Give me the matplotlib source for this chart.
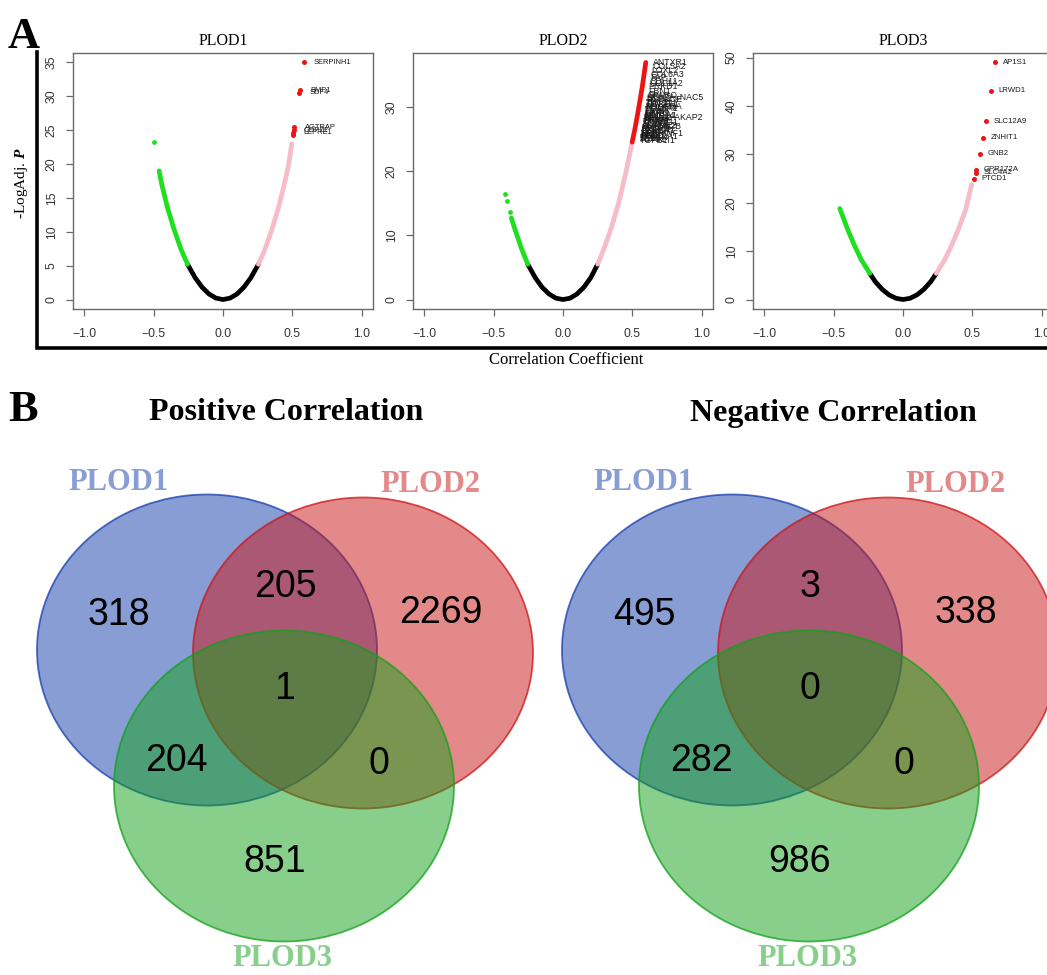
import matplotlib
matplotlib.use("Agg")
import matplotlib.pyplot as plt
from matplotlib.patches import Ellipse

# ---------------- data: volcano panels (r, -log adj P) ----------------
p1_black_r = [-0.255, -0.2, -0.15, -0.1, -0.05, 0.0, 0.05, 0.1, 0.15, 0.2, 0.255]
p1_black_y = [5.2, 3.2, 1.8, 0.8, 0.2, 0.0, 0.2, 0.8, 1.8, 3.2, 5.2]
p1_green_r = [-0.255, -0.3, -0.35, -0.4, -0.44, -0.46]
p1_green_y = [5.2, 7.3, 10.2, 13.6, 16.9, 19.0]
p1_green_pts_r = [-0.50]
p1_green_pts_y = [23.3]
p1_pink_r = [0.255, 0.3, 0.35, 0.4, 0.44, 0.47, 0.495]
p1_pink_y = [5.2, 7.3, 10.2, 13.6, 16.9, 19.6, 23.0]
p1_red_r = [0.58, 0.553, 0.55, 0.512, 0.509, 0.505, 0.502]
p1_red_y = [35.0, 30.9, 30.5, 25.4, 25.0, 24.6, 24.3]
p1_genes = ["SERPINH1", "BMP1", "SDF4", "AGTRAP", "COPZ2", "LEPRE1", ""]

p2_black_r = [-0.254, -0.2, -0.15, -0.1, -0.05, 0.0, 0.05, 0.1, 0.15, 0.2, 0.25]
p2_black_y = [5.5, 3.4, 1.9, 0.85, 0.2, 0.0, 0.2, 0.85, 1.9, 3.4, 5.5]
p2_green_r = [-0.254, -0.3, -0.35, -0.372]
p2_green_y = [5.5, 8.0, 11.2, 12.7]
p2_green_pts_r = [-0.384, -0.40, -0.415]
p2_green_pts_y = [13.7, 15.3, 16.4]
p2_pink_r = [0.25, 0.3, 0.35, 0.4, 0.45, 0.498]
p2_pink_y = [5.5, 8.2, 11.3, 15.0, 19.5, 24.5]
p2_red_r = [0.498, 0.52, 0.545, 0.57, 0.596]
p2_red_y = [24.5, 26.8, 29.8, 33.0, 36.9]
p2_gene_r = [0.596, 0.591, 0.586, 0.582, 0.578, 0.574, 0.571, 0.567, 0.561, 0.556,
             0.554, 0.551, 0.548, 0.545, 0.541, 0.539, 0.536, 0.533, 0.531, 0.529,
             0.526, 0.524, 0.521, 0.519, 0.516, 0.514, 0.511, 0.509, 0.506, 0.504,
             0.502, 0.500, 0.552, 0.547, 0.543, 0.540, 0.535, 0.532, 0.528, 0.525,
             0.522, 0.518, 0.515, 0.512, 0.508, 0.505, 0.503, 0.501]
p2_gene_y = [36.9, 36.3, 35.6, 35.0, 34.5, 34.0, 33.6, 33.1, 32.4, 31.8,
             31.5, 31.1, 30.7, 30.3, 29.9, 29.6, 29.2, 28.9, 28.6, 28.4,
             28.0, 27.7, 27.4, 27.1, 26.8, 26.5, 26.2, 25.9, 25.6, 25.3,
             25.0, 24.7, 31.3, 30.5, 30.1, 29.7, 29.0, 28.7, 28.2, 27.8,
             27.5, 27.0, 26.6, 26.3, 25.8, 25.5, 25.2, 24.9]
p2_genes = ["ANTXR1", "COL5A2", "LOXL2", "COL6A3", "FAP", "CDH11", "COL1A2", "PRKD1",
            "FBN1", "SPARC", "ST6GALNAC5", "PCOLCE", "THY1", "COL3A1", "POSTN", "VCAN",
            "CTSK", "MMP2", "COL1A1", "PALM2-AKAP2", "FN1", "TIMP3", "SULF1", "ADAM12",
            "MXRA5", "ITGA11", "LUM", "DCN", "FBN2", "COL12A1", "ZEB1", "TGFB1I1",
            "SNAI2", "TWIST1", "PDGFRA", "COL5A1", "LOX", "MMP14", "INHBA", "GREM1",
            "CTHRC1", "OLFML2B", "AEBP1", "COL8A1", "SERPINF1", "NNMT", "TAGLN", "FSTL1"]

p3_black_r = [-0.239, -0.2, -0.15, -0.1, -0.05, 0.0, 0.05, 0.1, 0.15, 0.2, 0.24]
p3_black_y = [5.4, 3.7, 2.1, 0.95, 0.25, 0.0, 0.25, 0.95, 2.1, 3.7, 5.4]
p3_green_r = [-0.239, -0.3, -0.35, -0.4, -0.455]
p3_green_y = [5.4, 8.2, 11.2, 14.6, 18.8]
p3_green_pts_r = []
p3_green_pts_y = []
p3_pink_r = [0.24, 0.3, 0.35, 0.4, 0.45, 0.495]
p3_pink_y = [5.4, 8.2, 11.2, 14.6, 18.5, 23.8]
p3_red_r = [0.663, 0.635, 0.599, 0.575, 0.553, 0.526, 0.522, 0.512]
p3_red_y = [49.0, 43.2, 36.9, 33.4, 30.1, 26.8, 26.2, 25.0]
p3_genes = ["AP1S1", "LRWD1", "SLC12A9", "ZNHIT1", "GNB2", "GPR172A", "SLC4A2", "PTCD1"]

x_ticks = [-1.0, -0.5, 0.0, 0.5, 1.0]
p1_yticks = [0, 5, 10, 15, 20, 25, 30, 35]
p2_yticks = [0, 10, 20, 30]
p3_yticks = [0, 10, 20, 30, 40, 50]

# ---------------- data: Venn counts ----------------
venn_regions = ["A only", "A&B", "B only", "A&B&C", "A&C", "B&C", "C only"]
pos_counts = [318, 205, 2269, 1, 204, 0, 851]
neg_counts = [495, 3, 338, 0, 282, 0, 986]
set_names = ["PLOD1", "PLOD2", "PLOD3"]

# ---------------- style ----------------
W, H = 1047, 975
fig = plt.figure(figsize=(W / 100, H / 100), dpi=100)
SERIF = "Liberation Serif"
SANS = "Liberation Sans"
plt.rcParams["mathtext.fontset"] = "custom"
plt.rcParams["mathtext.rm"] = "Liberation Serif"
plt.rcParams["mathtext.it"] = "Liberation Serif:italic"
plt.rcParams["mathtext.bf"] = "Liberation Serif:bold"
plt.rcParams["mathtext.bfit"] = "Liberation Serif:italic:bold"

C_GREEN = "#1fe01f"
C_PINK = "#f6bcc7"
C_RED = "#ec1515"
FRAME = "#6a6a6a"

# overlay axes in pixel coordinates
ov = fig.add_axes([0, 0, 1, 1])
ov.set_xlim(0, W)
ov.set_ylim(H, 0)
ov.axis("off")


def px_axes(x0, y0, x1, y1):
    return fig.add_axes([x0 / W, 1 - y1 / H, (x1 - x0) / W, (y1 - y0) / H])


def volcano(box, title, black, green, gpts, pink, red, genes, yticks, ymax,
            dense=False, off=0.07, fs=5.4):
    ax = px_axes(*box)
    lw = 3.4
    ax.plot(black[0], black[1], color="black", lw=lw, solid_capstyle="round", zorder=3)
    ax.plot(green[0], green[1], color=C_GREEN, lw=lw, solid_capstyle="round", zorder=3)
    if gpts[0]:
        ax.scatter(gpts[0], gpts[1], s=12, color=C_GREEN, lw=0, zorder=3)
    ax.plot(pink[0], pink[1], color=C_PINK, lw=lw, solid_capstyle="round", zorder=3)
    if dense:
        ax.plot(red[0], red[1], color=C_RED, lw=lw, solid_capstyle="round", zorder=4)
        gr, gy, gn = genes
    else:
        ax.scatter(red[0], red[1], s=13, color=C_RED, lw=0, zorder=4)
        gr, gy, gn = red[0], red[1], genes
    for r, y, g in zip(gr, gy, gn):
        ax.text(r + off, y, g, fontsize=fs, family=SANS, color="#1a1a1a",
                ha="left", va="center", zorder=5)
    ax.set_xlim(-1.08, 1.08)
    ax.set_ylim(-0.04 * ymax, 1.04 * ymax)
    ax.set_xticks(x_ticks)
    ax.set_xticklabels(["\u22121.0", "\u22120.5", "0.0", "0.5", "1.0"])
    ax.set_yticks(yticks)
    ax.set_yticklabels([str(t) for t in yticks], rotation=90, va="center")
    ax.tick_params(direction="out", length=5, width=0.9, color=FRAME,
                   labelsize=8.8, labelcolor="#333333")
    ax.tick_params(axis="x", pad=9)
    ax.tick_params(axis="y", pad=6)
    for lab in ax.get_xticklabels() + ax.get_yticklabels():
        lab.set_family(SANS)
    for s in ax.spines.values():
        s.set_color(FRAME)
        s.set_linewidth(1.0)
    ax.set_title(title, family=SERIF, fontsize=11.5, pad=6)
    return ax


volcano((73, 53, 373, 309), "PLOD1", (p1_black_r, p1_black_y), (p1_green_r, p1_green_y),
        (p1_green_pts_r, p1_green_pts_y), (p1_pink_r, p1_pink_y), (p1_red_r, p1_red_y),
        p1_genes, p1_yticks, 35.0, off=0.075)
volcano((413, 53, 713, 309), "PLOD2", (p2_black_r, p2_black_y), (p2_green_r, p2_green_y),
        (p2_green_pts_r, p2_green_pts_y), (p2_pink_r, p2_pink_y), (p2_red_r, p2_red_y),
        (p2_gene_r, p2_gene_y, p2_genes), p2_yticks, 36.9, dense=True, off=0.05, fs=6.3)
volcano((753, 53, 1053, 309), "PLOD3", (p3_black_r, p3_black_y), (p3_green_r, p3_green_y),
        (p3_green_pts_r, p3_green_pts_y), (p3_pink_r, p3_pink_y), (p3_red_r, p3_red_y),
        p3_genes, p3_yticks, 49.0, off=0.055, fs=5.6)

# L-shaped frame and shared labels of panel A
ov.plot([37, 37, W + 5], [52, 348, 348], color="black", lw=2.6, solid_joinstyle="miter",
        clip_on=False)
ov.text(22, 183, r"-LogAdj. $\mathbfit{P}$", rotation=90, ha="center", va="center",
        family=SERIF, fontsize=11)
ov.text(566, 360, "Correlation Coefficient", ha="center", va="center", family=SERIF,
        fontsize=12)
ov.text(8, 37, "A", ha="left", va="center", family=SERIF, fontsize=32, fontweight="bold")
ov.text(8, 410, "B", ha="left", va="center", family=SERIF, fontsize=32, fontweight="bold")

# ---------------- Venn diagrams ----------------
VB = (21 / 255, 61 / 255, 173 / 255)
VR = (203 / 255, 21 / 255, 21 / 255)
VG = (17 / 255, 161 / 255, 25 / 255)
ell_centers = [(0, 0), (156, 3), (77, 136)]
ell_w, ell_h = 340, 311
region_offsets = [(-88, -35), (78, -63), (234, -37), (78, 39), (-31, 111), (172, 114), (68, 212)]
label_offsets = [(-88, -168), (223, -166), (75, 309)]


def venn(ox, oy, counts, title, title_x):
    cols = [VB, VR, VG]
    for (dx, dy), c in zip(ell_centers, cols):
        ov.add_patch(Ellipse((ox + dx, oy + dy), ell_w, ell_h, facecolor=c + (0.5,),
                             edgecolor=c + (0.75,), lw=1.3))
    for (dx, dy), n in zip(region_offsets, counts):
        ov.text(ox + dx, oy + dy, str(n), ha="center", va="center", family=SANS,
                fontsize=27, color="black")
    for (dx, dy), name, c in zip(label_offsets, set_names, cols):
        ov.text(ox + dx, oy + dy, name, ha="center", va="center", family=SERIF,
                fontsize=22, fontweight="bold", color=c + (0.5,))
    ov.text(title_x, 413, title, ha="center", va="center", family=SERIF, fontsize=23,
            fontweight="bold")


venn(207, 650, pos_counts, "Positive Correlation", 286)
venn(732, 650, neg_counts, "Negative Correlation", 833)

fig.savefig("out.png", dpi=100)
